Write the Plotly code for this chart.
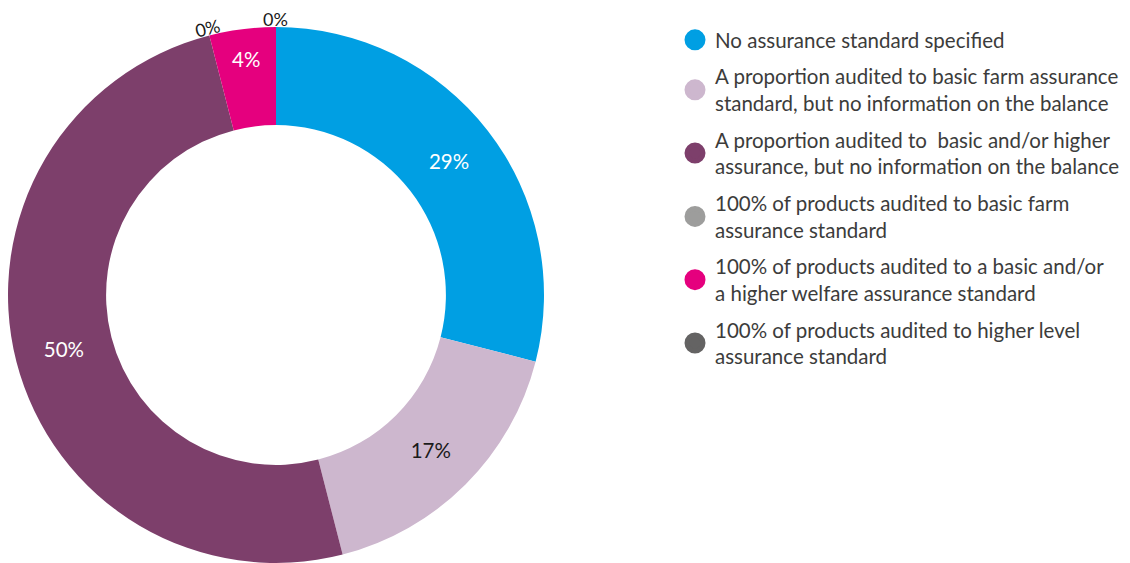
import math
import plotly.graph_objects as go

categories = [
    "No assurance standard specified",
    "A proportion audited to basic farm assurance<br>standard, but no information on the balance",
    "A proportion audited to  basic and/or higher<br>assurance, but no information on the balance",
    "100% of products audited to basic farm<br>assurance standard",
    "100% of products audited to a basic and/or<br>a higher welfare assurance standard",
    "100% of products audited to higher level<br>assurance standard",
]
values = [29, 17, 50, 0, 4, 0]
colors = ["#009FE3", "#CDB7CE", "#7D3F6B", "#9D9D9C", "#E5007E", "#646363"]
text_colors = ["white", "#1a1a1a", "white", "#1a1a1a", "white", "#1a1a1a"]

W, H = 1130, 563
FONT = "Lato"

fig = go.Figure()

dom_x = [0, 536 / W]
dom_y = [8 / H, 544 / H]

fig.add_trace(go.Pie(
    values=values,
    labels=[c.replace("<br>", " ") for c in categories],
    marker=dict(colors=colors, line=dict(width=0)),
    hole=0.634,
    sort=False,
    direction="clockwise",
    rotation=0,
    texttemplate=["%{percent:.0%}" if v > 0 else "" for v in values],
    textposition="inside",
    insidetextorientation="horizontal",
    textfont=dict(family=FONT, size=20.5, color=text_colors),
    showlegend=False,
    domain=dict(x=dom_x, y=dom_y),
    hoverinfo="label+percent",
))

# legend entries with circle symbols
for cat, col in zip(categories, colors):
    fig.add_trace(go.Scatter(
        x=[None], y=[None], mode="markers", name=cat,
        marker=dict(symbol="circle", size=16, color=col, line=dict(color=col, width=5)),
        legendgroup=cat, showlegend=True,
    ))

# labels for zero-valued slices, placed just outside the ring at their angle
cx = (dom_x[0] + dom_x[1]) / 2 * W
cy = H - (dom_y[0] + dom_y[1]) / 2 * H
R = (dom_x[1] - dom_x[0]) * W / 2
total = sum(values)
cum = 0
for v in values:
    if v == 0:
        ang = 360 * cum / total
        a = math.radians(ang)
        r = R + 8
        px = cx + r * math.sin(a)
        py = cy - r * math.cos(a)
        tilt = ang - 360 if ang > 180 else ang
        fig.add_annotation(
            x=px / W, y=1 - py / H, xref="paper", yref="paper",
            text="0%", showarrow=False, textangle=tilt,
            font=dict(family=FONT, size=18, color="#1a1a1a"),
            xanchor="center", yanchor="middle", borderpad=0,
        )
    cum += v

fig.update_layout(
    width=W, height=H,
    margin=dict(l=0, r=0, t=0, b=0),
    paper_bgcolor="white", plot_bgcolor="white",
    xaxis=dict(visible=False), yaxis=dict(visible=False),
    font=dict(family=FONT, size=18, color="#3C3C3B"),
    legend=dict(
        x=667 / W, y=1 - 12 / H, xanchor="left", yanchor="top",
        traceorder="grouped", tracegroupgap=7,
        font=dict(family=FONT, size=20.5, color="#3C3C3B"),
        itemsizing="trace", bgcolor="rgba(0,0,0,0)",
    ),
)

fig.write_html("out.html")
